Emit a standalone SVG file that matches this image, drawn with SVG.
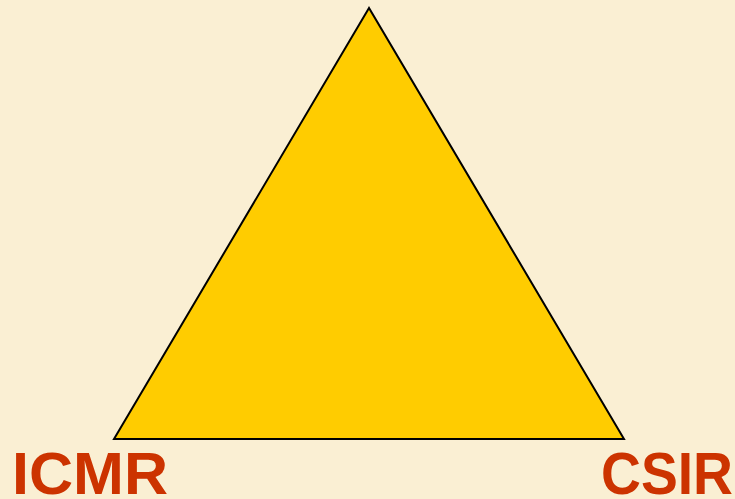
<svg xmlns="http://www.w3.org/2000/svg" width="735" height="499" viewBox="0 0 735 499">
<style>
.lbl{font-family:"Liberation Sans",Arial,sans-serif;font-weight:bold;font-size:60px;fill:#CC3300}
</style>
<rect width="735" height="499" fill="#FAEFD3"/>
<g id="triangle">
<polygon points="369,8 114,439 624,439" fill="#FFCC00" stroke="#000" stroke-width="2" stroke-linejoin="miter"/>
</g>
<g id="icmr"><text class="lbl" x="12" y="494" textLength="156" lengthAdjust="spacingAndGlyphs">ICMR</text></g>
<g id="csir"><text class="lbl" x="601" y="494" textLength="132" lengthAdjust="spacingAndGlyphs">CSIR</text></g>
</svg>
